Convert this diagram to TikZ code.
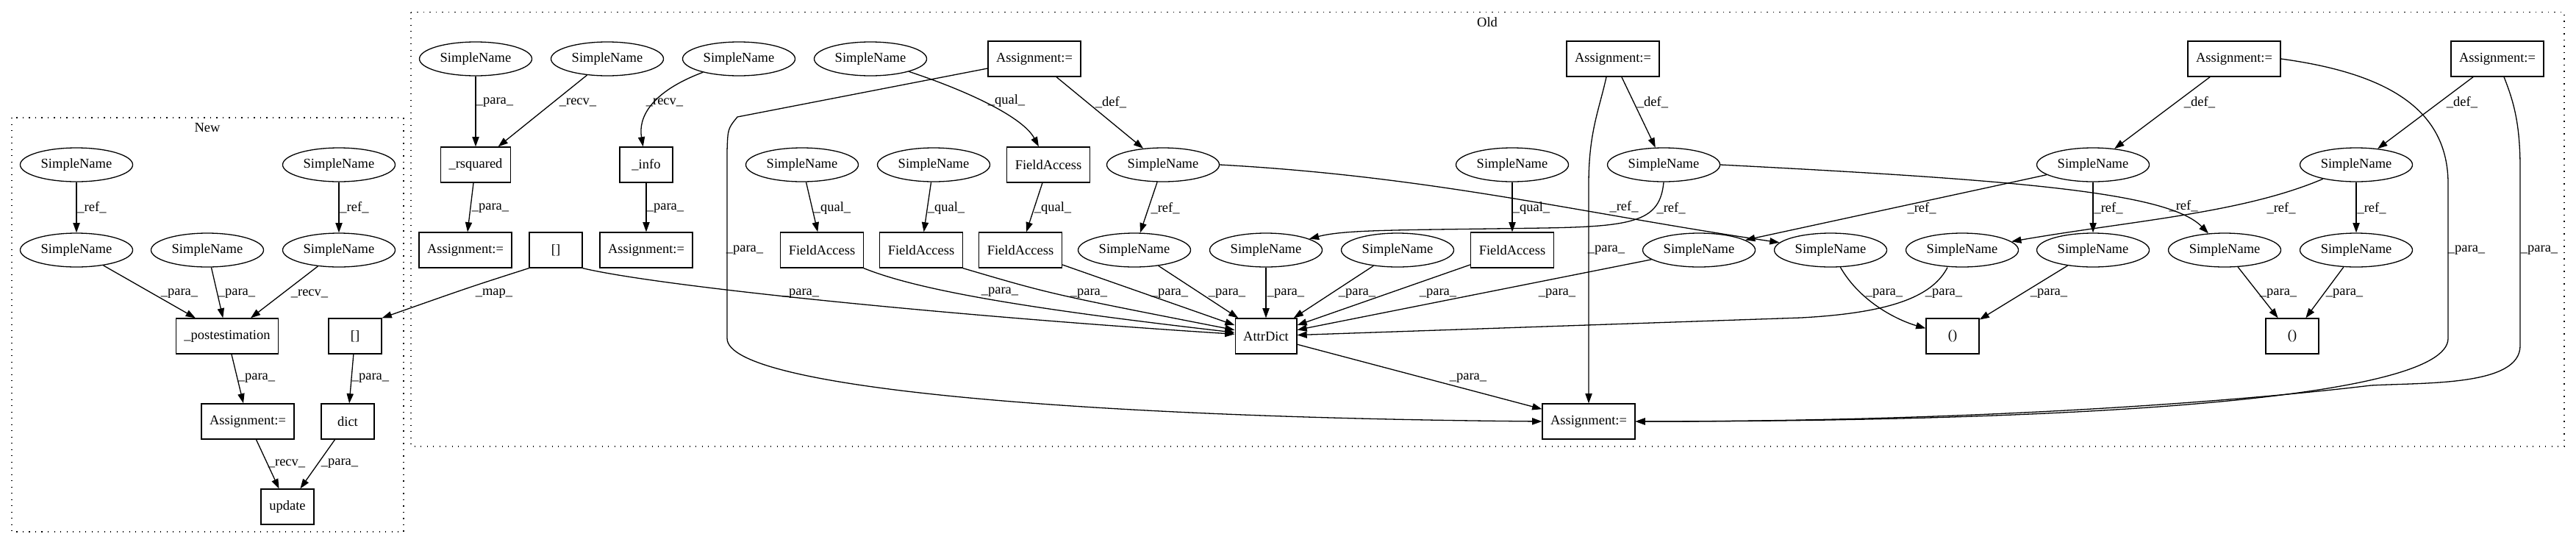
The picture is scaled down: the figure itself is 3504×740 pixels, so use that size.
\documentclass[tikz,border=0pt]{standalone}
\usepackage{fontspec}
\setmainfont{Liberation Serif}
\usepackage{tikz}
\usetikzlibrary{shapes,arrows.meta,positioning,calc}

\begin{document}
\begin{tikzpicture}[x=0.5pt, y=-0.5pt,
    every node/.style={font=\fontsize{9.25pt}{11pt}\selectfont},
    sname/.style={ellipse, draw, line width=0.65pt, minimum width=76.5pt, minimum height=23pt, inner sep=0pt},
    box/.style={rectangle, draw, line width=0.65pt, minimum width=36pt, minimum height=24pt, inner xsep=5.5pt, inner ysep=0pt},
    conn/.style={-{Triangle[length=6.6pt, width=4.6pt]}, line width=0.65pt},
    lbl/.style={inner sep=0pt},
    cluster/.style={line width=0.65pt, dash pattern=on 0.65pt off 3.6pt}
]
\useasboundingbox (0,0) rectangle (3504,740);

% Clusters
\draw[cluster] (16,160) rectangle (549,723);
\node (newTitle) at (282,174) {New};
\draw[cluster] (559,16.5) rectangle (3488,607);
\node (oldTitle) at (2023,30) {Old};

% New
\node[sname] (nSnA) at (104,224) {SimpleName};
\node[sname] (nSnB) at (461,224) {SimpleName};
\node[sname] (nRefA) at (104,340) {SimpleName};
\node[sname] (nArg) at (282,340) {SimpleName};
\node[sname] (nRefB) at (461,340) {SimpleName};
\node[box] (nPost) at (309,457) {\_postestimation};
\node[box] (nIdx) at (483,457) {[]};
\node[box] (nAsg) at (337,573) {Assignment:=};
\node[box] (nDict) at (473,573) {dict};
\node[box] (nUpd) at (391,689) {update};

% Old, top row
\node[sname] (rsqPara) at (647,80) {SimpleName};
\node[sname] (rsqRecv) at (826,80) {SimpleName};
\node[sname] (infoRecv) at (1005,80) {SimpleName};
\node[sname] (faQual) at (1184,80) {SimpleName};
\node[box] (asgA) at (1407,80) {Assignment:=};
\node[box] (asgB) at (2194,80) {Assignment:=};
\node[box] (asgC) at (3039,80) {Assignment:=};
\node[box] (asgD) at (3397,80) {Assignment:=};

% Old, second row
\node[box] (rsq) at (647,224) {\_rsquared};
\node[box] (info) at (879,224) {\_info};
\node[sname] (qualA) at (1091,224) {SimpleName};
\node[sname] (qualB) at (1270,224) {SimpleName};
\node[box] (faTop) at (1426,224) {FieldAccess};
\node[sname] (defA) at (1582,224) {SimpleName};
\node[sname] (qualC) at (2057,224) {SimpleName};
\node[sname] (defB) at (2263,224) {SimpleName};
\node[sname] (defC) at (2847,224) {SimpleName};
\node[sname] (defD) at (3205,224) {SimpleName};

% Old, third row
\node[box] (asgRsq) at (633,340) {Assignment:=};
\node[box] (idxOld) at (756,340) {[]};
\node[box] (asgInfo) at (879,340) {Assignment:=};
\node[box] (faA) at (1118,340) {FieldAccess};
\node[box] (faB) at (1253,340) {FieldAccess};
\node[box] (faC) at (1388,340) {FieldAccess};
\node[sname] (refA1) at (1543,340) {SimpleName};
\node[sname] (refB1) at (1722,340) {SimpleName};
\node[sname] (argD) at (1901,340) {SimpleName};
\node[box] (faD) at (2057,340) {FieldAccess};
\node[sname] (refC1) at (2311,340) {SimpleName};
\node[sname] (refA2) at (2490,340) {SimpleName};
\node[sname] (refD1) at (2669,340) {SimpleName};
\node[sname] (refC2) at (2847,340) {SimpleName};
\node[sname] (refB2) at (3026,340) {SimpleName};
\node[sname] (refD2) at (3205,340) {SimpleName};

% Old, bottom rows
\node[box] (attr) at (1722,457) {AttrDict};
\node[box] (tupA) at (2656,457) {()};
\node[box] (tupB) at (3118,457) {()};
\node[box] (asgOut) at (2161,573) {Assignment:=};

% Arrows (New)
\draw[conn] (nSnA) -- (nRefA) node[lbl] at (125,282) {\_ref\_};
\draw[conn] (nSnB) -- (nRefB) node[lbl] at (482,282) {\_ref\_};
\draw[conn] (nRefA) -- (nPost) node[lbl] at (244,399) {\_para\_};
\draw[conn] (nArg) -- (nPost) node[lbl] at (322,399) {\_para\_};
\draw[conn] (nRefB) -- (nPost) node[lbl] at (421,399) {\_recv\_};
\draw[conn] (nPost) -- (nAsg) node[lbl] at (349,514) {\_para\_};
\draw[conn] (nIdx) -- (nDict) node[lbl] at (504,514) {\_para\_};
\draw[conn] (nAsg) -- (nUpd) node[lbl] at (390,630) {\_recv\_};
\draw[conn] (nDict) -- (nUpd) node[lbl] at (462,630) {\_para\_};

% Arrows (Old)
\draw[conn] (rsqPara) -- (rsq) node[lbl] at (673,139) {\_para\_};
\draw[conn] (rsqRecv) -- (rsq) node[lbl] at (786,139) {\_recv\_};
\draw[conn] (infoRecv) .. controls (885,125) and (868,160) .. (info) node[lbl] at (904,139) {\_recv\_};
\draw[conn] (faQual) .. controls (1320,125) and (1392,160) .. (faTop) node[lbl] at (1369,137) {\_qual\_};
\draw[conn] (asgA) -- (defA) node[lbl] at (1511,139) {\_def\_};
\draw[conn] ($(asgA.west)+(0,13)$) -- (1003,159) .. controls (990,175) .. (989,205) -- (989,460) .. controls (989,530) and (1500,568) .. (asgOut.west) node[lbl] at (1013,340) {\_para\_};
\draw[conn] (asgB) -- (defB) node[lbl] at (2248,139) {\_def\_};
\draw[conn] ($(asgB.south)+(-9,0)$) .. controls (2175,150) and (2161,180) .. (2161,250) -- (asgOut) node[lbl] at (2185,340) {\_para\_};
\draw[conn] (asgC) -- (defC) node[lbl] at (2992,139) {\_def\_};
\draw[conn] (asgC.east) .. controls (3250,100) and (3330,150) .. (3330,250) -- (3330,460) .. controls (3330,545) and (2800,573) .. (asgOut.east) node[lbl] at (3355,340) {\_para\_};
\draw[conn] (asgD) -- (defD) node[lbl] at (3349,139) {\_def\_};
\draw[conn] ($(asgD.south)+(9,0)$) .. controls (3420,140) and (3428,170) .. (3428,230) -- (3428,470) .. controls (3428,525) and (3300,520) .. (3225,524) .. controls (3050,545) and (2700,573) .. (asgOut.east) node[lbl] at (3454,340) {\_para\_};

\draw[conn] (rsq) -- (asgRsq) node[lbl] at (667,283) {\_para\_};
\draw[conn] (info) -- (asgInfo) node[lbl] at (905,283) {\_para\_};
\draw[conn] (qualA) -- (faA) node[lbl] at (1132,283) {\_qual\_};
\draw[conn] (qualB) -- (faB) node[lbl] at (1287,283) {\_qual\_};
\draw[conn] (faTop) -- (faC) node[lbl] at (1432,283) {\_qual\_};
\draw[conn] (defA) -- (refA1) node[lbl] at (1585,283) {\_ref\_};
\draw[conn] (defA.east) .. controls (1950,240) and (2150,290) .. (refA2) node[lbl] at (2209,281) {\_ref\_};
\draw[conn] (qualC) -- (faD) node[lbl] at (2083,283) {\_qual\_};
\draw[conn] (defB.south) .. controls (2258,300) and (2225,308) .. (2100,310) .. controls (1900,313) and (1830,312) .. (refB1) node[lbl] at (2273,283) {\_ref\_};
\draw[conn] (defB.east) .. controls (2750,245) and (2950,262) .. (refB2) node[lbl] at (2970,280) {\_ref\_};
\draw[conn] (defC) -- (refC1) node[lbl] at (2614,283) {\_ref\_};
\draw[conn] (defC) -- (refC2) node[lbl] at (2868,283) {\_ref\_};
\draw[conn] (defD) .. controls (3050,290) and (2900,300) .. (refD1) node[lbl] at (3103,283) {\_ref\_};
\draw[conn] (defD) -- (refD2) node[lbl] at (3226,283) {\_ref\_};

\draw[conn] (idxOld.south west) .. controls (640,390) .. (nIdx.north east) node[lbl] at (672,399) {\_map\_};
\draw[conn] (idxOld.south east) .. controls (900,390) and (1300,430) .. (attr) node[lbl] at (1089,399) {\_para\_};
\draw[conn] (faA.south east) .. controls (1250,395) and (1400,420) .. (attr) node[lbl] at (1360,397) {\_para\_};
\draw[conn] (faB.south east) .. controls (1430,400) .. (attr) node[lbl] at (1481,399) {\_para\_};
\draw[conn] (faC) -- (attr) node[lbl] at (1591,399) {\_para\_};
\draw[conn] (refA1) -- (attr) node[lbl] at (1669,399) {\_para\_};
\draw[conn] (refB1) -- (attr) node[lbl] at (1749,399) {\_para\_};
\draw[conn] (argD) -- (attr) node[lbl] at (1846,399) {\_para\_};
\draw[conn] (faD) -- (attr) node[lbl] at (1956,399) {\_para\_};
\draw[conn] (refC1) -- (attr) node[lbl] at (2118,399) {\_para\_};
\draw[conn] ($(refD1.south)+(-20,0)$) .. controls (2630,400) and (2580,425) .. (2450,432) -- (attr) node[lbl] at (2644,399) {\_para\_};
\draw[conn] (refA2) .. controls (2530,410) and (2580,435) .. (tupA) node[lbl] at (2563,399) {\_para\_};
\draw[conn] (refC2) -- (tupA) node[lbl] at (2787,399) {\_para\_};
\draw[conn] (refB2) -- (tupB) node[lbl] at (3099,399) {\_para\_};
\draw[conn] (refD2) -- (tupB) node[lbl] at (3189,399) {\_para\_};
\draw[conn] (attr) -- (asgOut) node[lbl] at (1997,514) {\_para\_};

\end{tikzpicture}
\end{document}
